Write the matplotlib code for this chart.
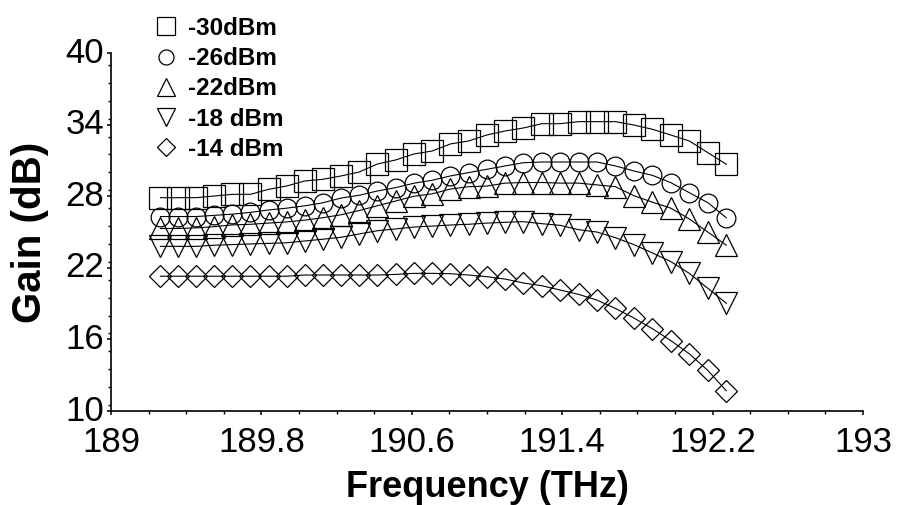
import matplotlib
matplotlib.use("Agg")
import matplotlib.pyplot as plt
from matplotlib.ticker import MultipleLocator, FixedLocator

freq = [189.263, 189.359, 189.454, 189.550, 189.646, 189.742, 189.838, 189.935,
        190.031, 190.127, 190.224, 190.320, 190.417, 190.514, 190.611, 190.708,
        190.805, 190.902, 190.999, 191.097, 191.194, 191.292, 191.390, 191.487,
        191.585, 191.683, 191.781, 191.880, 191.978, 192.076, 192.175, 192.273]

gain_m30 = [27.88, 27.88, 27.88, 28.02, 28.16, 28.16, 28.58, 28.86, 29.28, 29.42,
            29.70, 30.03, 30.70, 31.04, 31.54, 31.79, 32.38, 32.63, 33.13, 33.47,
            33.72, 34.08, 34.08, 34.25, 34.25, 34.25, 33.97, 33.61, 33.13, 32.63,
            31.65, 30.68]
gain_m26 = [26.30, 26.30, 26.30, 26.40, 26.50, 26.65, 26.85, 27.00, 27.20, 27.45,
            27.85, 28.08, 28.44, 28.72, 29.09, 29.34, 29.70, 29.98, 30.26, 30.54,
            30.81, 30.87, 30.87, 30.87, 30.87, 30.54, 30.12, 29.75, 29.14, 28.30,
            27.46, 26.20]
gain_m22 = [25.30, 25.30, 25.35, 25.45, 25.60, 25.65, 25.75, 25.85, 26.00, 26.20,
            26.45, 26.80, 27.20, 27.60, 28.00, 28.20, 28.60, 28.80, 28.85, 29.10,
            29.15, 29.15, 29.10, 29.10, 28.95, 28.80, 28.05, 27.50, 27.00, 26.10,
            25.00, 23.90]
gain_m18 = [23.80, 23.80, 23.80, 23.90, 23.95, 24.00, 24.05, 24.10, 24.25, 24.40,
            24.56, 24.84, 25.11, 25.26, 25.42, 25.50, 25.59, 25.65, 25.75, 25.82,
            25.87, 25.70, 25.56, 25.20, 25.00, 24.53, 23.95, 23.25, 22.52, 21.54,
            20.28, 19.03]
gain_m14 = [21.30, 21.30, 21.30, 21.30, 21.30, 21.30, 21.30, 21.30, 21.40, 21.40,
            21.40, 21.40, 21.40, 21.45, 21.54, 21.54, 21.51, 21.40, 21.26, 21.06,
            20.73, 20.50, 20.14, 19.78, 19.30, 18.60, 17.80, 16.90, 15.90, 14.80,
            13.40, 11.70]

labels = ["-30dBm", "-26dBm", "-22dBm", "-18 dBm", "-14 dBm"]
series = [gain_m30, gain_m26, gain_m22, gain_m18, gain_m14]
markers = ["s", "o", "^", "v", "D"]
msizes = [16, 13.5, 16, 16, 11.5]

xticks = [189, 189.8, 190.6, 191.4, 192.2, 193]
xticklabels = ["189", "189.8", "190.6", "191.4", "192.2", "193"]
yticks = [10, 16, 22, 28, 34, 40]

tick_font = ["Liberation Sans", "DejaVu Sans"]
bold_font = ["Liberation Sans", "DejaVu Sans"]

fig = plt.figure(figsize=(8.98, 5.05), dpi=100)
ax = fig.add_axes([0.1236, 0.186, 0.8374, 0.709])

for y, lab, mk, ms in zip(series, labels, markers, msizes):
    ax.plot(freq, y, color="black", lw=0.8, marker=mk, ms=ms,
            mfc="none", mec="black", mew=0.9, label=lab)

ax.set_xlim(189, 193)
ax.set_ylim(10, 40)
ax.xaxis.set_major_locator(FixedLocator(xticks))
ax.set_xticklabels(xticklabels)
ax.xaxis.set_minor_locator(MultipleLocator(0.2))
ax.yaxis.set_major_locator(FixedLocator(yticks))
ax.yaxis.set_minor_locator(MultipleLocator(1.5))

for s in ["top", "right"]:
    ax.spines[s].set_visible(False)
for s in ["left", "bottom"]:
    ax.spines[s].set_linewidth(1.2)

ax.tick_params(which="major", direction="out", length=3, width=1.1, pad=2)
ax.tick_params(which="minor", direction="out", length=2, width=1.0)
ax.tick_params(axis="x", which="major", pad=8)
for t in ax.get_xticklabels() + ax.get_yticklabels():
    t.set_fontfamily(tick_font)
    t.set_fontsize(25)
for t in ax.get_yticklabels():
    t.set_verticalalignment("center")

ax.set_xlabel("Frequency (THz)", fontsize=26, fontweight="bold",
              family=bold_font, labelpad=7.5)
ax.set_ylabel("Gain (dB)", fontsize=29, fontweight="bold",
              family=bold_font, labelpad=12)

handles, labs = ax.get_legend_handles_labels()
leg = ax.legend(handles, labs, loc="upper left", bbox_to_anchor=(0.1537, 0.998),
                bbox_transform=fig.transFigure, frameon=False,
                prop={"family": bold_font, "weight": "bold", "size": 17.5},
                handlelength=1.0, handletextpad=0.41, labelspacing=0.30,
                markerscale=0.8, borderaxespad=0.25)
for h in leg.legend_handles:
    h.set_linestyle("none")

fig.savefig("out.png", dpi=100)
